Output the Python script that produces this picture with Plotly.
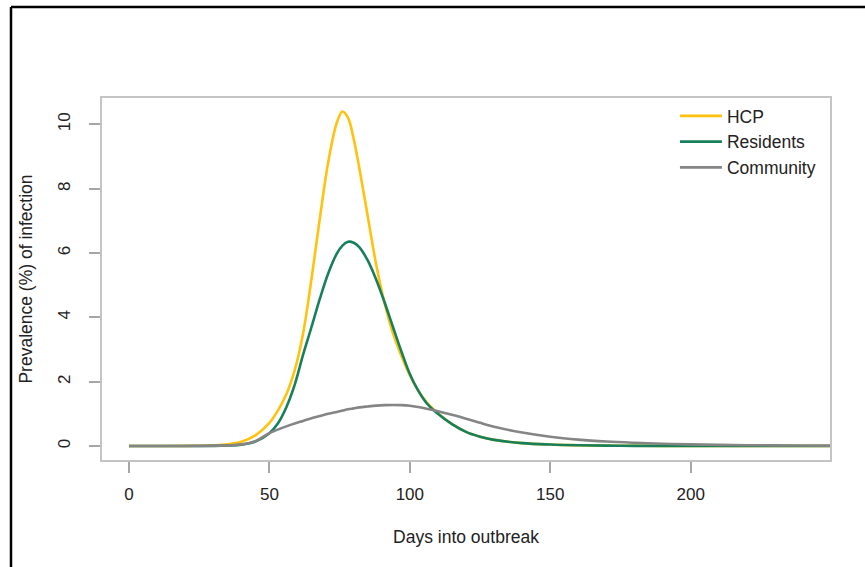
import plotly.graph_objects as go

# Days into outbreak (sample points)
days = [0, 10, 20, 25, 30, 35, 40, 45, 50, 53, 56, 59, 62, 65, 68, 71, 74, 76, 78,
        80, 82, 85, 88, 91, 94, 97, 100, 103, 106, 110, 115, 120, 125, 130, 140,
        150, 160, 170, 180, 190, 200, 215, 230, 250, 260]

hcp = [0, 0, 0.003, 0.008, 0.02, 0.05, 0.13, 0.33, 0.72, 1.1, 1.6, 2.35, 3.5, 5.2,
       7.1, 8.85, 10.05, 10.4, 10.2, 9.55, 8.65, 7.15, 5.65, 4.45, 3.5, 2.8, 2.2,
       1.72, 1.36, 1.02, 0.68, 0.44, 0.29, 0.19, 0.09, 0.045, 0.025, 0.012, 0.006,
       0.003, 0.002, 0.001, 0.0, 0.0, 0.0]

residents = [0, 0, 0.001, 0.002, 0.005, 0.015, 0.04, 0.14, 0.4, 0.7, 1.2, 1.9, 2.84,
             3.7, 4.59, 5.38, 5.98, 6.23, 6.35, 6.32, 6.18, 5.77, 5.18, 4.47, 3.7,
             2.94, 2.24, 1.72, 1.33, 1.0, 0.68, 0.44, 0.29, 0.19, 0.09, 0.045, 0.022,
             0.011, 0.005, 0.003, 0.002, 0.001, 0.0, 0.0, 0.0]

community = [0, 0, 0.002, 0.005, 0.01, 0.02, 0.05, 0.15, 0.4, 0.51, 0.61, 0.7, 0.78,
             0.86, 0.93, 1.0, 1.06, 1.1, 1.14, 1.17, 1.2, 1.23, 1.255, 1.27, 1.275,
             1.27, 1.25, 1.21, 1.16, 1.08, 0.97, 0.85, 0.72, 0.6, 0.42, 0.29, 0.2,
             0.14, 0.1, 0.07, 0.05, 0.03, 0.02, 0.012, 0.01]

x_ticks = [0, 50, 100, 150, 200]
y_ticks = [0, 2, 4, 6, 8, 10]

FONT = "Liberation Sans, Arial, sans-serif"
TXT = "#222222"

fig = go.Figure()
series = [("HCP", hcp, "#FFC20E"), ("Residents", residents, "#17805A"),
          ("Community", community, "#858585")]
for name, vals, col in series:
    fig.add_trace(go.Scatter(x=days, y=vals, mode="lines", name=name,
                             line=dict(color=col, width=2.6, shape="spline", smoothing=1.0)))

axis_common = dict(showgrid=False, zeroline=False, showline=True, mirror=True,
                   linecolor="#c4c4c4", linewidth=2, ticks="outside", ticklen=11,
                   tickcolor="#a6a6a6", tickwidth=1.5,
                   tickfont=dict(family=FONT, size=17, color=TXT))

fig.update_layout(
    width=865, height=567,
    margin=dict(l=102, r=35, t=98, b=107),
    paper_bgcolor="white", plot_bgcolor="white",
    font=dict(family=FONT, size=17, color=TXT),
    xaxis=dict(range=[-9.6, 249.6], tickvals=x_ticks, ticklabelstandoff=7,
               title=dict(text="Days into outbreak", standoff=27,
                          font=dict(family=FONT, size=17.5, color=TXT)),
               **axis_common),
    yaxis=dict(range=[-0.435, 10.82], tickvals=y_ticks, tickangle=-90,
               ticklabelstandoff=12,
               title=dict(text="Prevalence (%) of infection", standoff=18,
                          font=dict(family=FONT, size=17.5, color=TXT)),
               **axis_common),
    showlegend=True,
    legend=dict(x=0.787, y=1.0, xanchor="left", yanchor="top",
                bgcolor="rgba(0,0,0,0)", borderwidth=0,
                font=dict(family=FONT, size=17.5, color=TXT), itemwidth=42,
                tracegroupgap=0),
)

# outer black frame (top and left edges)
fig.add_shape(type="line", xref="paper", yref="paper",
              x0=-0.125, y0=1.2514, x1=1.06, y1=1.2514,
              line=dict(color="black", width=2.5))
fig.add_shape(type="line", xref="paper", yref="paper",
              x0=-0.125, y0=1.2514, x1=-0.125, y1=-0.31,
              line=dict(color="black", width=2.5))

fig.write_html("out.html", config={"displayModeBar": False},
               post_script="document.body.style.margin='0';")
